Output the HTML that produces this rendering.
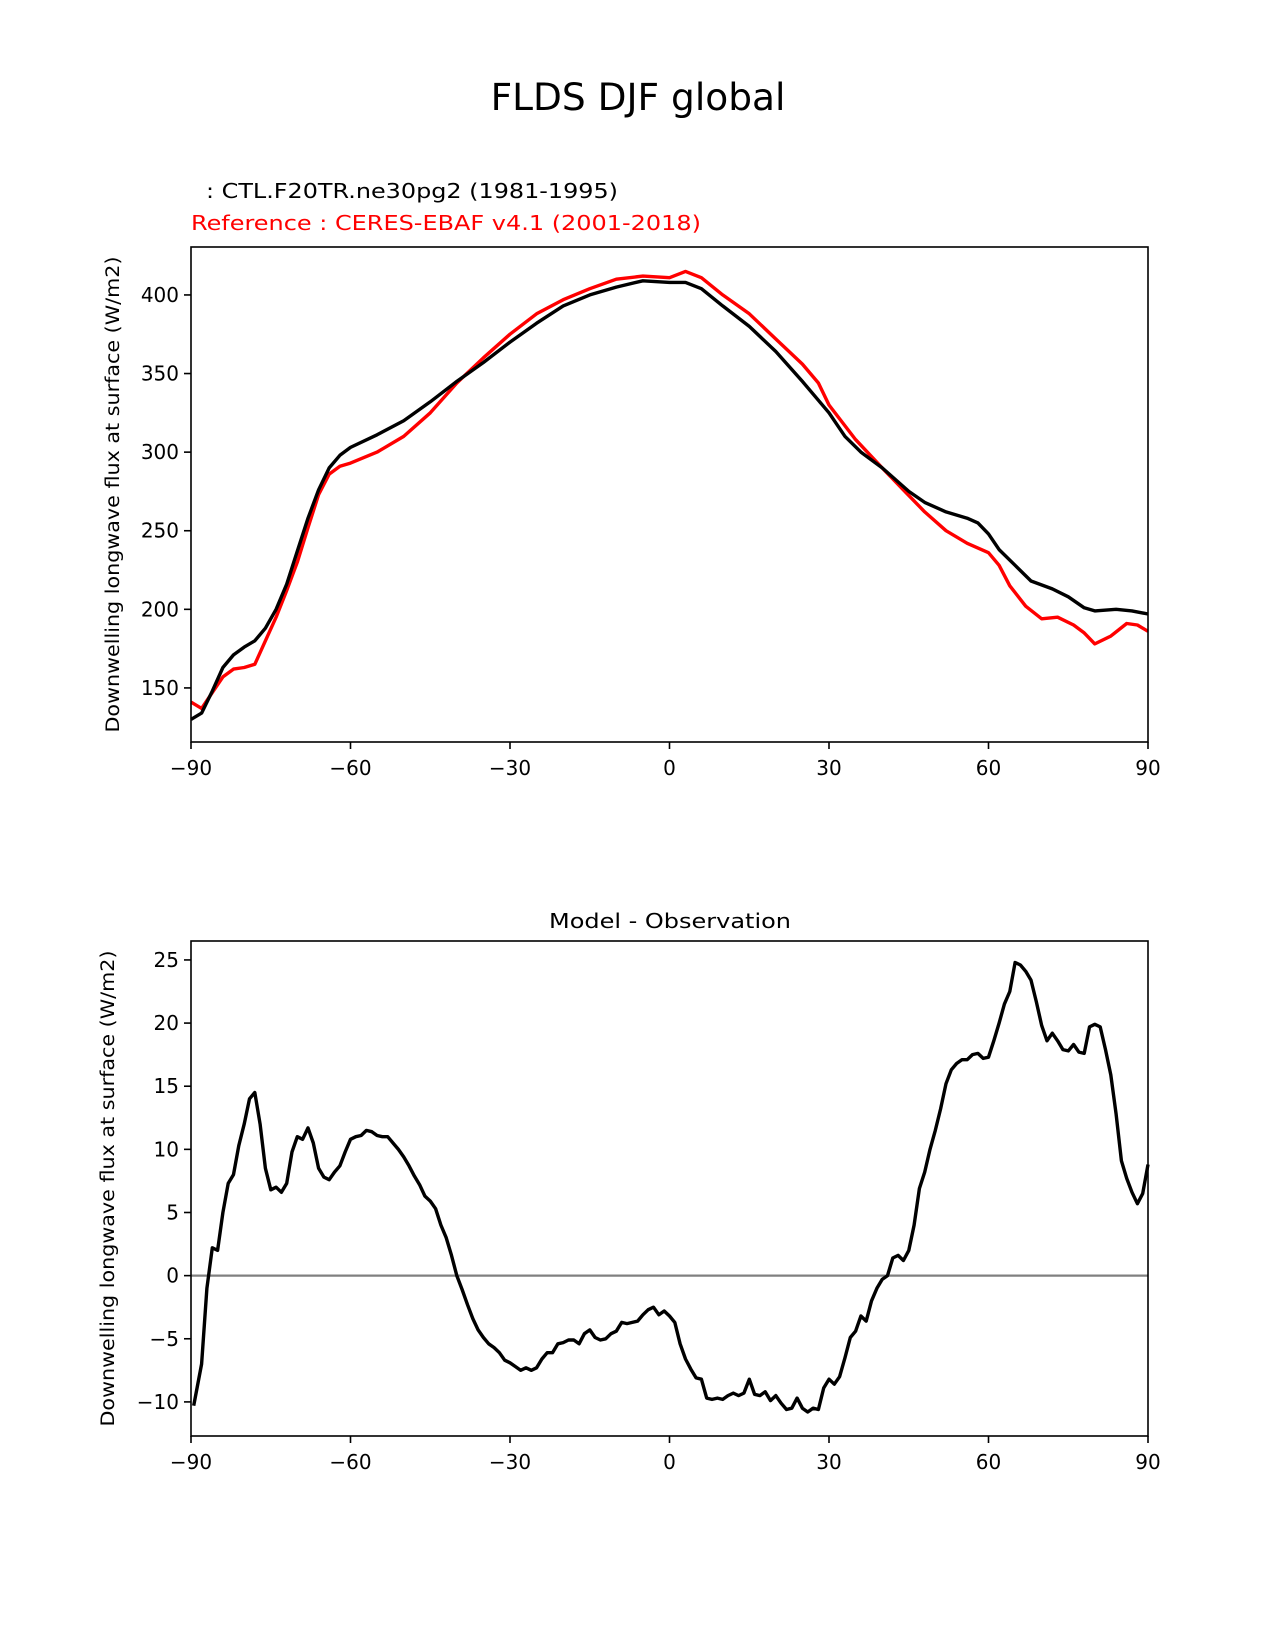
<!DOCTYPE html>
<html><head><meta charset="utf-8"><style>body{margin:0;background:#fff}svg{display:block}text{font-family:"DejaVu Sans","Liberation Sans",sans-serif}</style></head>
<body>
<svg id="fig" width="1275" height="1650" xmlns="http://www.w3.org/2000/svg">
<rect width="1275" height="1650" fill="#fff"/>
<text x="638" y="110" font-size="37.5" text-anchor="middle">FLDS DJF global</text>
<text x="206" y="198" font-size="20.5" textLength="412" lengthAdjust="spacingAndGlyphs">: CTL.F20TR.ne30pg2 (1981-1995)</text>
<text x="191" y="230" font-size="20.5" fill="#ff0000" textLength="510" lengthAdjust="spacingAndGlyphs">Reference : CERES-EBAF v4.1 (2001-2018)</text>
<text x="670" y="928" font-size="20.5" text-anchor="middle" textLength="242" lengthAdjust="spacingAndGlyphs">Model - Observation</text>
<g id="top"></g>
<g id="bot"></g>
</svg>
<script>
const topLat=[-90,-88,-86,-84,-82,-80,-78,-76,-74,-72,-70,-68,-66,-64,-62,-60,-55,-50,-45,-40,-35,-30,-25,-20,-15,-10,-5,0,3,6,10,15,20,25,30,33,36,40,45,48,52,56,58,60,62,65,68,72,75,78,80,84,87,90];
const modelVals=[130,134,148,163,171,176,180,188,200,216,237,258,276,290,298,303,311,320,332,345,357,370,382,393,400,405,409,408,408,404,393,380,364,345,325,310,300,290,275,268,262,258,255,248,238,228,218,213,208,201,199,200,199,197];
const obsLat=[-90,-88,-86,-84,-82,-80,-78,-76,-74,-72,-70,-68,-66,-64,-62,-60,-55,-50,-45,-40,-35,-30,-25,-20,-15,-10,-5,0,3,6,10,15,20,25,28,30,35,40,44,48,52,56,60,62,64,67,70,73,76,78,80,83,86,88,90];
const obsVals=[141,137,147,157,162,163,165,180,195,212,230,252,273,286,291,293,300,310,325,344,360,375,388,397,404,410,412,411,415,411,400,388,372,356,344,330,308,290,276,262,250,242,236,228,215,202,194,195,190,185,178,183,191,190,186];
const diffLat=[-89.5,-88,-87,-86,-85,-84,-83,-82,-81,-80,-79,-78,-77,-76,-75,-74,-73,-72,-71,-70,-69,-68,-67,-66,-65,-64,-63,-62,-61,-60,-59,-58,-57,-56,-55,-54,-53,-52,-51,-50,-49,-48,-47,-46,-45,-44,-43,-42,-41,-40,-39,-38,-37,-36,-35,-34,-33,-32,-31,-30,-29,-28,-27,-26,-25,-24,-23,-22,-21,-20,-19,-18,-17,-16,-15,-14,-13,-12,-11,-10,-9,-8,-7,-6,-5,-4,-3,-2,-1,0,1,2,3,4,5,6,7,8,9,10,11,12,13,14,15,16,17,18,19,20,21,22,23,24,25,26,27,28,29,30,31,32,33,34,35,36,37,38,39,40,41,42,43,44,45,46,47,48,49,50,51,52,53,54,55,56,57,58,59,60,61,62,63,64,65,66,67,68,69,70,71,72,73,74,75,76,77,78,79,80,81,82,83,84,85,86,87,88,89,90];
const diffVals=[-10.3,-7,-1,2.2,2,5,7.3,8,10.3,12,14,14.5,12,8.5,6.8,7,6.6,7.3,9.8,11,10.8,11.7,10.5,8.5,7.8,7.6,8.2,8.7,9.8,10.8,11,11.1,11.5,11.4,11.1,11,11,10.5,10,9.4,8.7,7.9,7.2,6.3,5.9,5.3,4,3,1.6,0,-1.1,-2.3,-3.4,-4.3,-4.9,-5.4,-5.7,-6.1,-6.7,-6.9,-7.2,-7.5,-7.3,-7.5,-7.3,-6.6,-6.1,-6.1,-5.4,-5.3,-5.1,-5.1,-5.4,-4.6,-4.3,-4.9,-5.1,-5,-4.6,-4.4,-3.7,-3.8,-3.7,-3.6,-3.1,-2.7,-2.5,-3.1,-2.8,-3.2,-3.7,-5.4,-6.6,-7.4,-8.1,-8.2,-9.7,-9.8,-9.7,-9.8,-9.5,-9.3,-9.5,-9.3,-8.2,-9.4,-9.5,-9.2,-9.9,-9.5,-10.1,-10.6,-10.5,-9.7,-10.5,-10.8,-10.5,-10.6,-8.9,-8.2,-8.6,-8,-6.5,-4.9,-4.4,-3.2,-3.6,-2,-1,-0.3,0,1.4,1.6,1.2,2,4,6.9,8.2,10,11.5,13.2,15.2,16.3,16.8,17.1,17.1,17.5,17.6,17.2,17.3,18.6,20,21.5,22.5,24.8,24.6,24.1,23.4,21.7,19.8,18.6,19.2,18.6,17.9,17.8,18.3,17.7,17.6,19.7,19.9,19.7,17.9,15.9,12.8,9.1,7.7,6.6,5.7,6.5,8.8];
const xTicks=[-90,-60,-30,0,30,60,90];
const topYTicks=[150,200,250,300,350,400];
const botYTicks=[-10,-5,0,5,10,15,20,25];
const NS='http://www.w3.org/2000/svg';
function mk(p,tag,attrs){const e=document.createElementNS(NS,tag);for(const k in attrs)e.setAttribute(k,attrs[k]);p.appendChild(e);return e;}
function panel(g,L,R,T,B,ymin,ymax,yticks,ylabel,series,zero){
  const sx=v=>L+(v+90)/180*(R-L);
  const sy=v=>B-(v-ymin)/(ymax-ymin)*(B-T);
  if(zero){const z=mk(g,'line',{x1:L,x2:R,y1:sy(0),y2:sy(0),stroke:'#808080','stroke-width':2.2});
    
    }
  series.forEach(s=>{
    const d=s.lat.map((la,i)=>(i?'L':'M')+sx(la).toFixed(1)+','+sy(s.vals[i]).toFixed(1)).join('');
    const p=mk(g,'path',{d:d,fill:'none',stroke:s.color,'stroke-width':3.4,'stroke-linejoin':'round'});
    
    
  });
  const fr=mk(g,'rect',{x:L,y:T,width:R-L,height:B-T,fill:'none',stroke:'#000','stroke-width':1.6});
  
  
  xTicks.forEach(t=>{
    mk(g,'line',{x1:sx(t),x2:sx(t),y1:B,y2:B+7,stroke:'#000','stroke-width':1.6});
    const tx=mk(g,'text',{x:sx(t),y:B+33,'font-size':20,'text-anchor':'middle'});
    tx.textContent=t<0?'\u2212'+(-t):String(t);
    
    
  });
  yticks.forEach(t=>{
    mk(g,'line',{x1:L-7,x2:L,y1:sy(t),y2:sy(t),stroke:'#000','stroke-width':1.6});
    const tx=mk(g,'text',{x:L-12,y:sy(t)+7,'font-size':20,'text-anchor':'end'});
    tx.textContent=t<0?'\u2212'+(-t):String(t);
    
    
  });
  const cy=(T+B)/2;
  const yl=mk(g,'text',{x:0,y:0,'font-size':18.5,'text-anchor':'middle',transform:`translate(${ylabel.x},${cy}) rotate(-90)`,textLength:476,lengthAdjust:'spacingAndGlyphs'});
  yl.textContent='Downwelling longwave flux at surface (W/m2)';
  
  
}
panel(document.getElementById('top'),191,1148,247,742,115.6,430.5,topYTicks,{x:119},
  [{lat:obsLat,vals:obsVals,color:'#ff0000',name:'reference-line'},{lat:topLat,vals:modelVals,color:'#000',name:'model-line'}],false);
panel(document.getElementById('bot'),191,1148,941,1436,-12.7,26.5,botYTicks,{x:114},
  [{lat:diffLat,vals:diffVals,color:'#000',name:'difference-line'}],true);
</script>
</body></html>
